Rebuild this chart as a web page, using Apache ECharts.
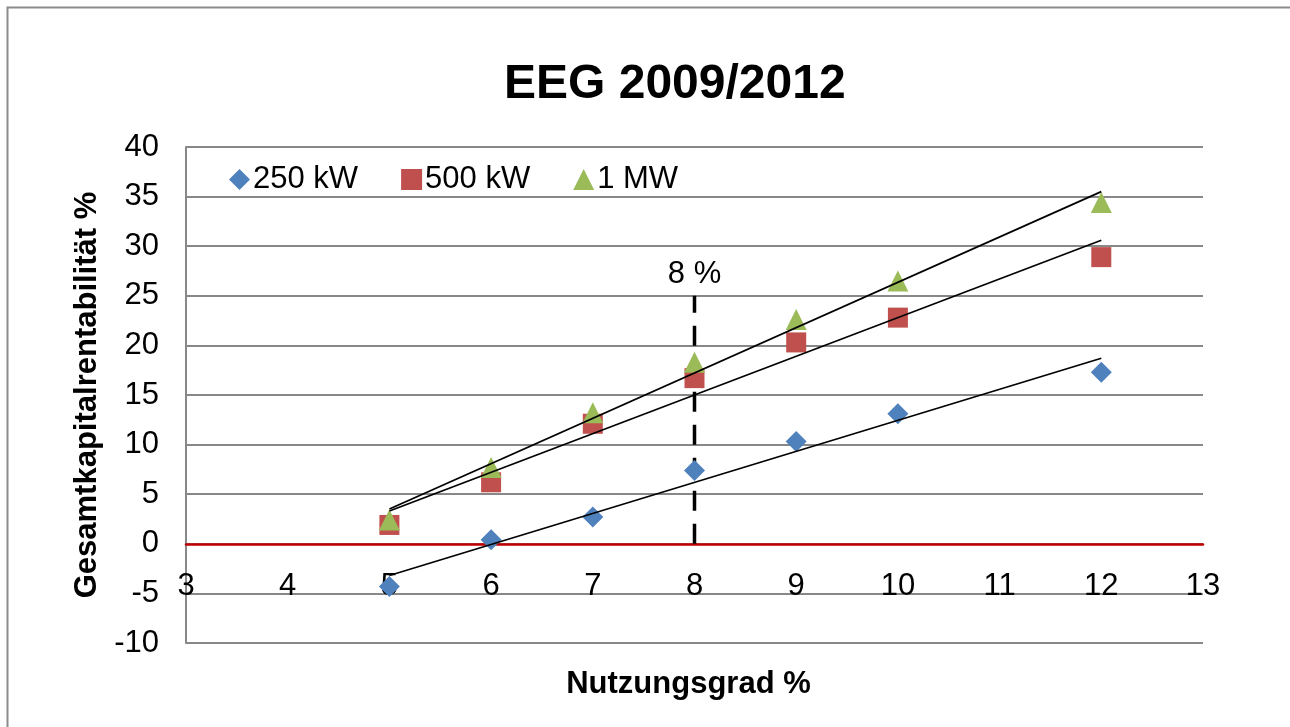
<!DOCTYPE html>
<html>
<head>
<meta charset="utf-8">
<script src="https://cdn.jsdelivr.net/npm/echarts@6/dist/echarts.min.js"></script>
<style>html,body{margin:0;padding:0;background:#fff;}#c{width:1290px;height:727px;}</style>
</head>
<body>
<div id="c"></div>
<script>
var xValues = [5, 6, 7, 8, 9, 10, 12];
var kw250 = [-4.3, 0.4, 2.7, 7.4, 10.3, 13.1, 17.3];
var kw500 = [1.9, 6.2, 12.1, 16.7, 20.3, 22.8, 28.9];
var mw1 = [2.4, 7.7, 13.2, 18.3, 22.6, 26.5, 34.4];
var trendX = [5, 12];
var trend250 = [-3.2, 18.7];
var trend500 = [3.3, 30.6];
var trend1mw = [3.5, 35.5];
var markerX = 8;
var markerY = [0, 25];
var markerText = '8 %';
var seriesNames = ['250 kW', '500 kW', '1 MW'];

function pairs(xs, ys) { return xs.map(function (x, i) { return [x, ys[i]]; }); }

var FONT = '"Liberation Sans", Arial, sans-serif';
var yMin = -10, yMax = 40;
var gridTop = 147, gridBottom = 84, H = 727;
var zeroOffset = (H - gridTop - gridBottom) * (0 - yMin) / (yMax - yMin);

var chart = echarts.init(document.getElementById('c'), null, {renderer: 'canvas'});
var trendStyle = {color: '#000', width: 1.7};
chart.setOption({
  animation: false,
  backgroundColor: '#fff',
  title: {
    text: 'EEG 2009/2012', left: 499, top: 56,
    textStyle: {fontFamily: FONT, fontSize: 48, fontWeight: 'bold', color: '#000'}
  },
  legend: {
    left: 224, top: 159, itemGap: 43, itemWidth: 21, itemHeight: 21,
    data: [
      {name: seriesNames[0], icon: 'diamond'},
      {name: seriesNames[1], icon: 'rect'},
      {name: seriesNames[2], icon: 'triangle'}
    ],
    textStyle: {fontFamily: FONT, fontSize: 31, color: '#000', padding: [0, 0, 0, -2]}
  },
  grid: {left: 186, right: 87, top: gridTop, bottom: gridBottom, outerBoundsMode: 'none', containLabel: false},
  xAxis: {
    type: 'value', min: 3, max: 13, interval: 1, position: 'bottom', offset: -zeroOffset,
    name: 'Nutzungsgrad %', nameLocation: 'middle', nameGap: 125,
    nameTextStyle: {fontFamily: FONT, fontSize: 31, fontWeight: 'bold', color: '#000', padding: [0, 0, 0, -12]},
    axisLine: {onZero: false, lineStyle: {color: '#C00000', width: 2.5}},
    axisTick: {show: false},
    splitLine: {show: false},
    axisLabel: {fontFamily: FONT, fontSize: 31, color: '#000', margin: 27}
  },
  yAxis: {
    type: 'value', min: yMin, max: yMax, interval: 5,
    name: 'Gesamtkapitalrentabilität %', nameLocation: 'middle', nameGap: 80,
    nameTextStyle: {fontFamily: FONT, fontSize: 31, fontWeight: 'bold', color: '#000'},
    axisLine: {show: true, onZero: false, lineStyle: {color: '#888', width: 2}},
    axisTick: {show: false},
    splitLine: {show: true, lineStyle: {color: '#888', width: 2}},
    axisLabel: {fontFamily: FONT, fontSize: 31, color: '#000', margin: 27}
  },
  graphic: [{
    type: 'rect', left: 5, top: 5, z: -1, silent: true,
    shape: {width: 1320, height: 760},
    style: {fill: 'none', stroke: '#8c8c8c', lineWidth: 2}
  }],
  series: [
    {
      type: 'line', silent: true, symbol: 'none', z: 3,
      data: [[markerX, markerY[0]], [markerX, markerY[1]]],
      lineStyle: {color: '#000', width: 3.5, type: [20, 13]}
    },
    {
      type: 'scatter', silent: true, symbolSize: 0.1, z: 3, itemStyle: {color: '#000', opacity: 1},
      data: [[markerX, markerY[1]]],
      label: {show: true, position: 'top', distance: 6, formatter: markerText, fontFamily: FONT, fontSize: 31, color: '#000', opacity: 1}
    },
    {name: seriesNames[0], type: 'scatter', symbol: 'diamond', symbolSize: 21, z: 4,
      itemStyle: {color: '#4F81BD', opacity: 1}, data: pairs(xValues, kw250)},
    {name: seriesNames[1], type: 'scatter', symbol: 'rect', symbolSize: 20, z: 4,
      itemStyle: {color: '#C0504D', opacity: 1}, data: pairs(xValues, kw500)},
    {name: seriesNames[2], type: 'scatter', symbol: 'triangle', symbolSize: 21, z: 4,
      itemStyle: {color: '#9BBB59', opacity: 1}, data: pairs(xValues, mw1)},
    {type: 'line', silent: true, symbol: 'none', z: 5, lineStyle: trendStyle, data: pairs(trendX, trend250)},
    {type: 'line', silent: true, symbol: 'none', z: 5, lineStyle: trendStyle, data: pairs(trendX, trend500)},
    {type: 'line', silent: true, symbol: 'none', z: 5, lineStyle: trendStyle, data: pairs(trendX, trend1mw)}
  ]
});
</script>
</body>
</html>
